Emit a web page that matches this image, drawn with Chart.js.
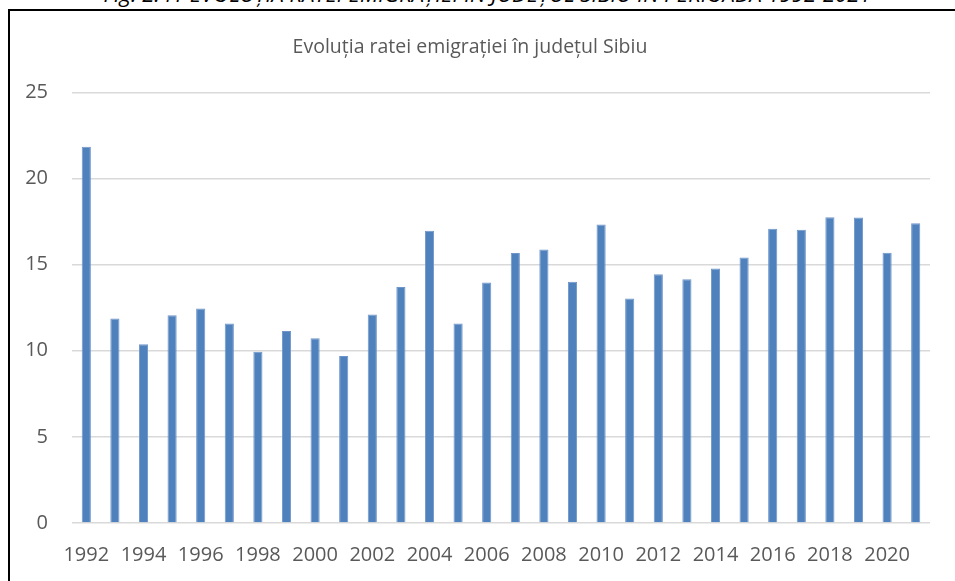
<!DOCTYPE html>
<html>
  <head>
    <meta charset="utf-8">
    <title>Rata emigratiei Sibiu</title>
    <style>
        body {
            margin: 0;
            overflow: hidden;
            background: #fff;
            font-family: 'Open Sans', sans-serif;
        }
        #caption {
            position: absolute;
            left: 0;
            width: 975px;
            top: -18px;
            text-align: center;
            font-style: italic;
            font-size: 22px;
            line-height: 22px;
            color: #000;
            white-space: nowrap;
        }
        #box {
            position: absolute;
            left: 8px;
            top: 9px;
            width: 950px;
            height: 580px;
            border: 2px solid #000;
        }
    </style>
    <script src="https://cdn.jsdelivr.net/npm/chart.js@4.4.0/dist/chart.umd.min.js"></script>
  </head>
  <body>

  <div id="caption">Fig. 2.41 EVOLUȚIA RATEI EMIGRAȚIEI ÎN JUDEȚUL SIBIU ÎN PERIOADA 1992-2021</div>
  <div id="box">
    <canvas id="myChart" width="950" height="580"></canvas>
  </div>

  <script type="text/javascript">
    // ani 1992 - 2021
    var years = ['1992', '1993', '1994', '1995', '1996', '1997', '1998', '1999', '2000', '2001',
                 '2002', '2003', '2004', '2005', '2006', '2007', '2008', '2009', '2010', '2011',
                 '2012', '2013', '2014', '2015', '2016', '2017', '2018', '2019', '2020', '2021'];
    // rata emigratiei
    var rata = [21.85, 11.87, 10.38, 12.06, 12.45, 11.58, 9.94, 11.14, 10.73, 9.69,
                12.10, 13.70, 16.97, 11.58, 13.97, 15.67, 15.88, 14.01, 17.33, 13.03,
                14.44, 14.15, 14.77, 15.42, 17.08, 17.02, 17.75, 17.74, 15.69, 17.41];
    var yTicks = [0, 5, 10, 15, 20, 25];

    var ctx = document.getElementById('myChart').getContext('2d');
    var chart = new Chart(ctx, {
        type: 'bar',
        data: {
            labels: years,
            datasets: [{
                  label: 'Rata emigrației',
                  data: rata,
                  backgroundColor: '#4f81bd',
                  borderColor: '#6f96c9',
                  borderWidth: 1,
                  borderSkipped: 'bottom',
                  categoryPercentage: 1,
                  barPercentage: 0.32
            }]
        },
        options: {
            responsive: false,
            animation: false,
            layout: { padding: { left: 0, right: 30, top: 0, bottom: 0 } },
            plugins: {
                legend: { display: false },
                tooltip: { enabled: false },
                title: {
                    display: true,
                    text: 'Evoluția ratei emigrației în județul Sibiu',
                    color: '#595959',
                    font: { family: 'Open Sans', size: 19.5, weight: 'normal', lineHeight: 1.2 },
                    padding: { top: 25, bottom: 33 }
                }
            },
            scales: {
                x: {
                    grid: { display: false },
                    border: { display: false },
                    ticks: {
                        color: '#595959',
                        font: { family: 'Open Sans', size: 20 },
                        autoSkip: false,
                        maxRotation: 0,
                        padding: 12,
                        // only every second year gets a label
                        callback: function (val, i) { return i % 2 === 0 ? years[i] : ''; }
                    },
                    afterFit: function (axis) { axis.height = 68; }
                },
                y: {
                    min: 0,
                    max: 25,
                    afterBuildTicks: function (axis) {
                        axis.ticks = yTicks.map(function (v) { return { value: v }; });
                    },
                    grid: { color: '#d9d9d9', lineWidth: 1.5, drawTicks: false },
                    border: { display: false },
                    ticks: {
                        color: '#595959',
                        font: { family: 'Open Sans', size: 20 },
                        padding: 24
                    },
                    afterFit: function (axis) { axis.width = 62; }
                }
            }
        }
    });
  </script>

  </body>
</html>
